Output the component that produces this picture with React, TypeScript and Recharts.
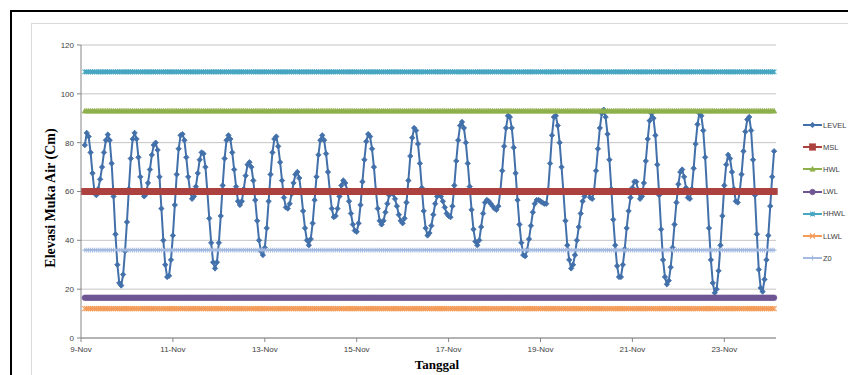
import { LineChart, Line, XAxis, YAxis, CartesianGrid } from "recharts"

// hourly water level (cm), starting 9-Nov 02:00
const startHour = 2
const level = [
  79, 84, 82.5, 76, 67.5, 60, 58.5, 61, 65, 70, 76, 81, 83.3, 81, 71.5, 58, 42.5, 30, 22.5, 21.5,
  26, 35.5, 47.5, 61, 73.5, 81.5, 84, 81.5, 74, 66, 59.5, 58, 59, 63.5, 69, 75, 79, 80, 77, 66,
  53, 40, 30, 25, 25.5, 32, 42, 54.5, 67, 77.5, 83, 83.5, 81, 74, 66, 60, 57, 58, 62, 67.5,
  73, 76, 75.5, 70, 60, 49, 39, 31, 28.5, 31, 39, 50, 62.5, 73.5, 81, 83, 81.5, 76, 69, 62,
  56, 54.5, 56, 61, 66.5, 71, 72, 70, 64.5, 56.5, 48, 40, 35.5, 34, 37, 45, 56, 67, 76, 81.5,
  82.5, 78.5, 72, 64.5, 57.5, 53.5, 53, 55, 59, 63.5, 67, 68, 65.5, 59.5, 52, 45, 40, 38, 40.5, 47,
  56.5, 66, 75, 81, 83, 81, 75.5, 68, 60, 53, 49.5, 50, 53, 58, 62.5, 64.5, 63.5, 60.5, 56, 51,
  46.5, 44, 43.5, 47, 54.5, 64, 73, 80.5, 83.5, 82.5, 77.5, 70, 60.5, 53, 48, 46.5, 48, 51.5, 55, 58.5,
  60, 59, 57, 54, 50.5, 48, 47, 49, 55.5, 64.5, 74.5, 82, 86, 85, 79.5, 71.5, 61.5, 52, 45, 42,
  43, 46, 50.5, 55, 58, 59, 58, 56, 53.5, 51, 50, 49.5, 54, 62.5, 72.5, 81, 87, 88.5, 86, 80,
  71.5, 62, 52.5, 44.5, 39.5, 38, 40, 45.5, 51, 55.5, 56.5, 56, 55, 54, 53, 52.5, 54, 60, 68.5, 78.5,
  86, 91, 90.5, 86, 78, 67.5, 56.5, 46.5, 39, 34, 33.5, 36, 40.5, 46, 51.5, 55, 56.5, 56.5, 56, 55.5,
  55, 55, 60.5, 71.5, 83, 90.5, 91, 87, 80, 70, 59.5, 48, 38, 32, 28.5, 30, 34, 40, 45.5, 51,
  56, 58, 59.5, 59.5, 57.5, 57, 60.5, 68.5, 77.5, 86, 92, 93.5, 90.5, 83.5, 73, 61, 48.5, 38, 29.5, 25,
  25, 30, 36.5, 45, 52, 57.5, 61.5, 64, 64, 60.5, 57, 58, 63.5, 72.5, 81.5, 89, 92, 90, 83, 71,
  58.5, 44.5, 32, 25, 22, 23.5, 29, 37, 46.5, 55.5, 63, 68, 69, 66, 61.5, 57.5, 57, 61, 69.5, 79.5,
  87.5, 92, 91, 85, 74, 60, 45, 32, 22.5, 18.5, 20, 27.5, 38, 50, 62.5, 71, 75, 73.5, 68, 61,
  56, 55.5, 59.5, 67, 76.5, 84.5, 89.5, 90.5, 85, 73, 58.5, 42.5, 28, 20.5, 19, 24, 32, 42, 54, 66,
  76.5,
]

// reference levels (cm)
const refNames = ["MSL", "HWL", "LWL", "HHWL", "LLWL", "Z0"]
const refValues = [60, 93, 16.5, 109, 12, 36]

const dayTicks = [0, 48, 96, 144, 192, 240, 288, 336]
const dayLabels = ["9-Nov", "11-Nov", "13-Nov", "15-Nov", "17-Nov", "19-Nov", "21-Nov", "23-Nov"]
const yTicks = [0, 20, 40, 60, 80, 100, 120]

const legendNames = ["LEVEL", "MSL", "HWL", "LWL", "HHWL", "LLWL", "Z0"]

const COLORS: Record<string, string> = {
  LEVEL: "#4270AA",
  MSL: "#AC4240",
  HWL: "#8EB04C",
  LWL: "#6F5594",
  HHWL: "#47A6C2",
  LLWL: "#F39C59",
  Z0: "#A4BAE0",
}

const MARKERS: Record<string, { kind: string; s: number }> = {
  LEVEL: { kind: "diamond", s: 2.7 },
  MSL: { kind: "square", s: 3.2 },
  HWL: { kind: "triangle", s: 2.7 },
  LWL: { kind: "circle", s: 2.8 },
  HHWL: { kind: "star", s: 2.3 },
  LLWL: { kind: "x", s: 2.5 },
  Z0: { kind: "plus", s: 2.4 },
}

const data = level.map((v, i) => {
  const row: Record<string, number> = { h: startHour + i, LEVEL: v }
  refNames.forEach((n, j) => {
    row[n] = refValues[j]
  })
  return row
})

function Marker({ kind, cx, cy, s, color }: { kind: string; cx: number; cy: number; s: number; color: string }) {
  if (kind === "diamond")
    return <path d={`M${cx},${cy - s}L${cx + s},${cy}L${cx},${cy + s}L${cx - s},${cy}Z`} fill={color} stroke={color} strokeWidth={0.8} />
  if (kind === "square")
    return <rect x={cx - s} y={cy - s} width={2 * s} height={2 * s} fill={color} stroke={color} strokeWidth={0.6} />
  if (kind === "triangle")
    return <path d={`M${cx},${cy - s}L${cx + s},${cy + s * 0.8}L${cx - s},${cy + s * 0.8}Z`} fill={color} stroke={color} strokeWidth={0.6} />
  if (kind === "circle") return <circle cx={cx} cy={cy} r={s} fill={color} stroke={color} strokeWidth={0.6} />
  if (kind === "x")
    return (
      <path d={`M${cx - s},${cy - s}L${cx + s},${cy + s}M${cx - s},${cy + s}L${cx + s},${cy - s}`} stroke={color} strokeWidth={1.2} fill="none" />
    )
  if (kind === "star")
    return (
      <path
        d={`M${cx - s},${cy - s}L${cx + s},${cy + s}M${cx - s},${cy + s}L${cx + s},${cy - s}M${cx},${cy - s}L${cx},${cy + s}`}
        stroke={color}
        strokeWidth={1.1}
        fill="none"
      />
    )
  return <path d={`M${cx - s},${cy}L${cx + s},${cy}M${cx},${cy - s}L${cx},${cy + s}`} stroke={color} strokeWidth={1.1} fill="none" />
}

function makeDot(name: string) {
  const m = MARKERS[name]
  return (p: any) => {
    if (p.cx == null || p.cy == null) return <g key={p.index} />
    return <Marker key={p.index} kind={m.kind} cx={p.cx} cy={p.cy} s={m.s} color={COLORS[name]} />
  }
}

const tickStyle = { fontSize: 8, fill: "#404040", fontFamily: "'Liberation Sans', Arial, sans-serif" }

export default function App() {
  return (
    <div style={{ position: "fixed", left: 0, top: 0, width: 848, height: 375, overflow: "hidden", background: "#fff" }}>
      {/* chart frames */}
      <div style={{ position: "absolute", left: 10, top: 10, width: 900, height: 420, border: "2px solid #000" }} />
      <div style={{ position: "absolute", left: 31, top: 23, width: 880, height: 400, border: "1px solid #d9d9d9" }} />

      <div style={{ position: "absolute", left: 0, top: 0 }}>
        <LineChart width={848} height={375} data={data} margin={{ top: 45, right: 72, bottom: 7, left: 0 }}>
          <CartesianGrid horizontal vertical={false} stroke="#c4c4c4" />
          <XAxis
            dataKey="h"
            type="number"
            domain={[0, 363]}
            ticks={dayTicks}
            tickFormatter={(v: number) => dayLabels[dayTicks.indexOf(v)] ?? ""}
            height={30}
            tick={tickStyle}
            tickSize={4}
            tickMargin={4}
            stroke="#868686"
          />
          <YAxis
            domain={[0, 120]}
            ticks={yTicks}
            width={81}
            tick={tickStyle}
            tickSize={4}
            tickMargin={3}
            stroke="#868686"
          />
          <Line
            dataKey="LEVEL"
            type="linear"
            stroke={COLORS.LEVEL}
            strokeWidth={2}
            dot={makeDot("LEVEL")}
            isAnimationActive={false}
          />
          {refNames.map((n) => (
            <Line
              key={n}
              dataKey={n}
              type="linear"
              stroke={COLORS[n]}
              strokeWidth={2}
              dot={makeDot(n)}
              isAnimationActive={false}
            />
          ))}
        </LineChart>
      </div>

      {/* axis titles */}
      <div
        style={{
          position: "absolute",
          left: 51,
          top: 198,
          transform: "translate(-50%, -50%) rotate(-90deg)",
          whiteSpace: "nowrap",
          fontFamily: "'Liberation Serif', 'Times New Roman', serif",
          fontWeight: "bold",
          fontSize: 14,
          color: "#000",
        }}
      >
        Elevasi Muka Air (Cm)
      </div>
      <div
        style={{
          position: "absolute",
          left: 437,
          top: 365,
          transform: "translate(-50%, -50%)",
          whiteSpace: "nowrap",
          fontFamily: "'Liberation Serif', 'Times New Roman', serif",
          fontWeight: "bold",
          fontSize: 13,
          color: "#000",
        }}
      >
        Tanggal
      </div>

      {/* legend */}
      {legendNames.map((n, i) => (
        <div
          key={n}
          style={{
            position: "absolute",
            left: 803,
            top: 125 + i * 22.2 - 5,
            height: 10,
            display: "flex",
            alignItems: "center",
            whiteSpace: "nowrap",
          }}
        >
          <svg width={19} height={10}>
            <line x1={0} y1={5} x2={19} y2={5} stroke={COLORS[n]} strokeWidth={2} />
            <Marker kind={MARKERS[n].kind} cx={9.5} cy={5} s={MARKERS[n].s} color={COLORS[n]} />
          </svg>
          <span style={{ marginLeft: 1, fontSize: 7.5, color: "#404040", fontFamily: "'Liberation Sans', Arial, sans-serif" }}>
            {n}
          </span>
        </div>
      ))}
    </div>
  )
}
